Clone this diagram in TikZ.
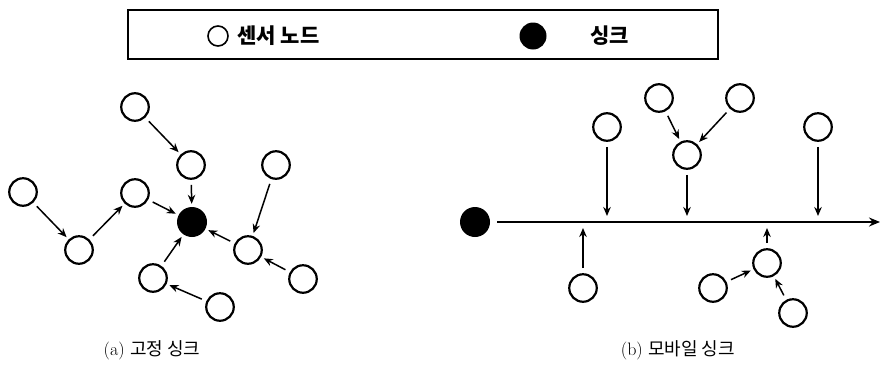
\documentclass[tikz,border=0pt]{standalone}
\usepackage{fontspec}
\newfontfamily\kr{Noto Sans CJK KR}
\usetikzlibrary{calc}
\usetikzlibrary{arrows.meta}

\begin{document}
\begin{tikzpicture}[x=1pt, y=-1pt,
  sensor/.style={draw, circle, line width=2.2pt, minimum size=27.5pt, inner sep=0pt},
  sink/.style={circle, fill=black, minimum size=30pt, inner sep=0pt},
  link/.style={black, line width=1.5pt, -{Stealth[length=9pt, width=7.5pt]}, shorten <=5pt, shorten >=3pt},
  drop/.style={black, line width=1.5pt, -{Stealth[length=9pt, width=7.5pt]}, shorten <=5pt, shorten >=6pt},
  legendtext/.style={anchor=west, font=\kr\fontsize{21}{24}\selectfont\bfseries},
  caption/.style={font=\fontsize{18}{21}\selectfont}]
\useasboundingbox (0,0) rectangle (880,370);
% legend
\draw[line width=1.4pt] (128,10) rectangle (718,59);
\node[draw, circle, line width=1.6pt, minimum size=20pt, inner sep=0pt] (legsensor) at (218,36) {};
\node[legendtext] (legsensortext) at (234,36) {센서 노드};
\node[sink, minimum size=27pt] (legsink) at (533,36) {};
\node[legendtext] (legsinktext) at (587,36) {싱크};

% (a) fixed sink
\foreach \n/\x/\y in {a1/135/107, a2/191/165, a3/23/192, a4/135/193, a5/79/250,
                      a6/276/165, a7/248/250, a8/303/279, a9/153/278, a10/220/307} {
 \node[sensor] (\n) at (\x,\y) {};
}
\node[sink] (sinka) at (192,222) {};
\foreach \s/\t in {a1/a2, a2/sinka, a3/a5, a5/a4, a4/sinka, a6/a7, a7/sinka, a8/a7, a9/sinka, a10/a9} {
 \draw[link] (\s) -- (\t);
}

% (b) mobile sink
\node[sink] (sinkb) at (475,222) {};
\coordinate (busend) at (880,222);
\draw[black, line width=2.6pt, -{Stealth[length=11pt, width=9pt]}, shorten <=7pt] (sinkb) -- (busend);
\foreach \n/\x/\y in {b1/607/127, b2/659/98, b3/740/98, b4/687/155, b5/818/127,
                      b6/583/288, b7/767/263, b8/713/288, b9/793/313} {
 \node[sensor] (\n) at (\x,\y) {};
}
\foreach \s/\t in {b2/b4, b3/b4, b8/b7, b9/b7} {
 \draw[link] (\s) -- (\t);
}
\foreach \n in {b1, b4, b5, b6, b7} {
 \draw[drop] (\n) -- (\n |- sinkb);
}

% captions
\node[caption] (capa) at (152,350) {(a) {\kr 고정 싱크}};
\node[caption] (capb) at (678,350) {(b) {\kr 모바일 싱크}};
\end{tikzpicture}
\end{document}
